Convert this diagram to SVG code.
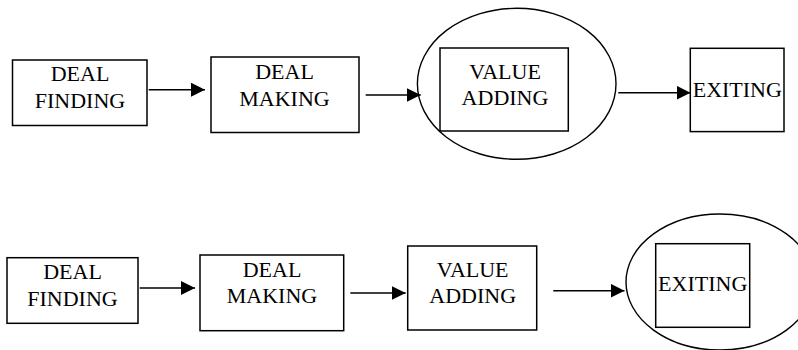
<svg xmlns="http://www.w3.org/2000/svg" width="798" height="350" viewBox="0 0 798 350">
<defs>
<style>
.box{fill:#fff;stroke:#000;stroke-width:1.5}
.ring{fill:#fff;stroke:#000;stroke-width:1.4}
.lbl{font-family:"Liberation Serif","Times New Roman",serif;font-size:22px;fill:#000;text-anchor:middle}
.conn{stroke:#000;stroke-width:1.4;fill:none;marker-end:url(#ah)}
</style>
<marker id="ah" viewBox="0 0 14 14" refX="14" refY="7" markerWidth="14" markerHeight="14" markerUnits="userSpaceOnUse" orient="auto">
<path d="M0,0 L14,7 L0,14 Z" fill="#000"/>
</marker>
</defs>
<rect width="798" height="350" fill="#fff"/>
<!-- Top row -->
<g id="t-finding"><rect class="box" x="12.5" y="60" width="134.5" height="65.5"/><text class="lbl" x="80" y="81">DEAL</text><text class="lbl" x="80" y="107.5">FINDING</text></g>
<g id="t-making"><rect class="box" x="211" y="57" width="148" height="75.5"/><text class="lbl" x="284.5" y="79">DEAL</text><text class="lbl" x="284.5" y="105.5">MAKING</text></g>
<g id="t-value"><ellipse class="ring" cx="516.7" cy="83.8" rx="99.3" ry="75.5"/><rect class="box" x="440" y="48" width="128.3" height="83"/><text class="lbl" x="505" y="79.3">VALUE</text><text class="lbl" x="505" y="105.3">ADDING</text></g>
<g id="t-exiting"><rect class="box" x="690.3" y="48.3" width="93.7" height="83.3"/><text class="lbl" x="737.3" y="96.7">EXITING</text></g>
<!-- Bottom row -->
<g id="b-finding"><rect class="box" x="7" y="257.7" width="131" height="65.6"/><text class="lbl" x="72.5" y="279.3">DEAL</text><text class="lbl" x="72.5" y="306">FINDING</text></g>
<g id="b-making"><rect class="box" x="200" y="255" width="143.7" height="75.7"/><text class="lbl" x="272" y="277">DEAL</text><text class="lbl" x="272" y="303">MAKING</text></g>
<g id="b-value"><rect class="box" x="407.7" y="246" width="129" height="84"/><text class="lbl" x="472.7" y="276.7">VALUE</text><text class="lbl" x="472.7" y="302.7">ADDING</text></g>
<g id="b-exiting"><ellipse class="ring" cx="720" cy="282" rx="94" ry="68"/><rect class="box" x="655.7" y="243.7" width="94" height="83.6"/><text class="lbl" x="702.7" y="290.7">EXITING</text></g>
<g id="connectors">
<line class="conn" x1="148.7" y1="89.7" x2="205" y2="89.7"/>
<line class="conn" x1="365.7" y1="95" x2="420.7" y2="95"/>
<line class="conn" x1="618.3" y1="92.7" x2="690.5" y2="92.7"/>
<line class="conn" x1="139.7" y1="288" x2="195" y2="288"/>
<line class="conn" x1="350.3" y1="293" x2="405.7" y2="293"/>
<line class="conn" x1="553.3" y1="290.7" x2="624.5" y2="290.7"/>
</g>
</svg>
